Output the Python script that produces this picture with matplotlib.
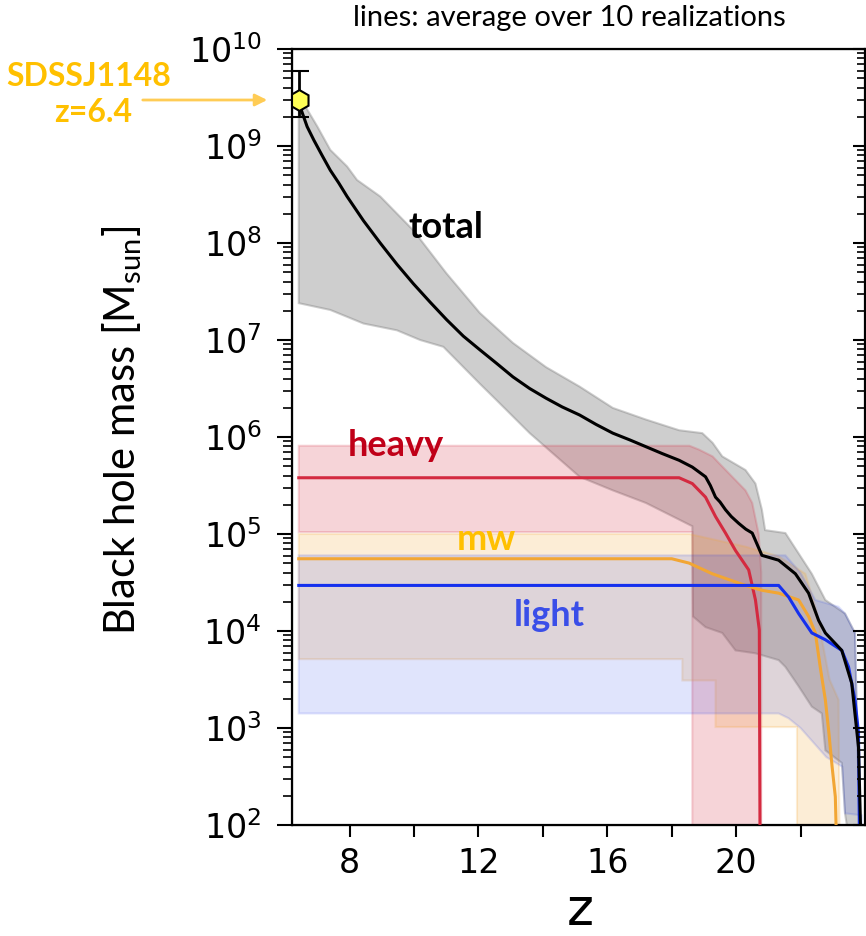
import numpy as np
import matplotlib
matplotlib.use("Agg")
import matplotlib.pyplot as plt
from matplotlib.ticker import (FixedLocator, FixedFormatter, NullFormatter,
                               LogFormatterSciNotation)

# ---------------- data ----------------
# observed quasar
qso_z = 6.42
qso_m = 3.0e9
qso_err_lo = 1.0e9
qso_err_hi = 3.0e9

# total: mean line and band
total_z = [6.42, 6.5, 6.68, 6.89, 7.15, 7.40, 7.66, 7.92, 8.43, 8.95, 9.47, 9.98,
           10.5, 11.01, 11.53, 12.04, 12.56, 13.07, 13.59, 14.1, 14.6, 15.14,
           15.65, 16.17, 16.7, 17.2, 17.7, 18.23, 18.64, 19.05, 19.2, 19.36,
           19.5, 19.67, 19.85, 20.08, 20.3, 20.5, 20.8, 21.32, 21.84, 22.25,
           22.56, 22.77, 23.28, 23.59, 23.8, 23.9]
total_logm = [9.48, 9.37, 9.2, 9.06, 8.90, 8.75, 8.62, 8.48, 8.23, 8.0, 7.78, 7.58,
              7.39, 7.21, 7.04, 6.9, 6.76, 6.62, 6.50, 6.40, 6.31, 6.227,
              6.13, 6.04, 5.97, 5.90, 5.83, 5.76, 5.69, 5.59, 5.50, 5.38,
              5.33, 5.25, 5.18, 5.11, 5.05, 5.01, 4.78, 4.73, 4.59, 4.39,
              4.11, 3.98, 3.80, 3.46, 2.8, 1.5]
total_up_z = [6.42, 6.57, 7.0, 7.4, 7.92, 8.23, 8.95, 9.98, 11.0, 12.04, 13.07, 14.1,
              15.14, 16.17, 17.2, 18.23, 18.95, 19.27, 19.57, 20.29, 20.6, 20.8,
              20.9, 21.53, 22.35, 22.77, 23.38, 23.69, 23.9]
total_up_logm = [9.50, 9.44, 9.2, 8.96, 8.79, 8.65, 8.48, 8.13, 7.69, 7.28, 6.97, 6.72,
                 6.52, 6.30, 6.18, 6.07, 6.04, 5.94, 5.80, 5.66, 5.52, 5.25,
                 5.04, 5.01, 4.59, 4.32, 4.18, 3.98, 1.0]
total_lo_z = [6.42, 7.4, 8.43, 9.47, 10.19, 10.91, 12.04, 12.56, 13.59, 15.14,
              16.17, 17.2, 18.64, 18.66, 19.05, 19.57, 19.98, 20.6, 21.32, 21.53,
              21.94, 22.35, 22.66, 22.77, 23.28, 23.38, 23.9]
total_lo_logm = [7.38, 7.31, 7.17, 7.10, 7.0, 6.93, 6.55, 6.38, 6.04, 5.59,
                 5.45, 5.32, 5.08, 4.15, 4.04, 3.98, 3.80, 3.77, 3.70, 3.63,
                 3.43, 3.22, 3.15, 2.77, 2.64, 2.12, 1.0]

# heavy seeds
heavy_z = [6.42, 18.23, 18.64, 19.05, 19.36, 19.67, 19.98, 20.39, 20.6, 20.72, 20.75]
heavy_logm = [5.58, 5.58, 5.52, 5.38, 5.18, 5.01, 4.83, 4.63, 4.32, 4.01, 1.0]
heavy_up_z = [6.42, 18.55, 18.85, 19.27, 19.47, 19.88, 20.29, 20.5, 20.7, 20.78, 20.78]
heavy_up_logm = [5.91, 5.91, 5.87, 5.80, 5.73, 5.59, 5.45, 5.32, 5.0, 4.6, 1.0]
heavy_lo_z = [6.42, 18.64, 18.64]
heavy_lo_logm = [5.02, 5.02, 1.0]

# medium-weight seeds
mw_z = [6.42, 18.0, 18.54, 19.26, 20.29, 20.8, 21.32, 21.94, 22.25, 22.46,
        22.61, 22.77, 22.88, 22.98, 23.08, 23.18]
mw_logm = [4.745, 4.745, 4.70, 4.59, 4.47, 4.42, 4.39, 4.32, 4.15, 3.98,
           3.63, 3.29, 2.95, 2.60, 2.29, 1.0]
mw_up_z = [6.42, 18.55, 20.29, 21.32, 22.15, 22.5, 22.9, 23.18, 23.23]
mw_up_logm = [5.0, 5.0, 4.87, 4.77, 4.59, 4.2, 3.5, 3.29, 1.0]
mw_lo_z = [6.42, 18.33, 18.33, 19.36, 19.36, 21.89, 21.89]
mw_lo_logm = [3.71, 3.71, 3.49, 3.49, 3.01, 3.01, 1.0]

# light seeds
light_z = [6.42, 21.32, 21.63, 21.94, 22.35, 22.77, 23.28, 23.49, 23.69, 23.8, 23.85]
light_logm = [4.47, 4.47, 4.35, 4.18, 3.98, 3.91, 3.80, 3.63, 3.29, 2.95, 1.0]
light_up_z = [6.42, 21.53, 22.0, 22.46, 23.18, 23.38, 23.69, 23.9]
light_up_logm = [4.78, 4.78, 4.6, 4.32, 4.25, 4.18, 3.98, 1.0]
light_lo_z = [6.42, 21.32, 21.63, 22.0, 22.4, 22.8, 23.3, 23.38, 23.9]
light_lo_logm = [3.15, 3.15, 3.1, 3.0, 2.85, 2.7, 2.6, 2.12, 2.1]

x_ticks = [8, 10, 12, 14, 16, 18, 20, 22]
x_ticklabels = ["8", "", "12", "", "16", "", "20", ""]
y_decades = list(range(2, 11))

# ---------------- figure ----------------
plt.rcParams["mathtext.default"] = "regular"
fig = plt.figure(figsize=(8.66, 9.36), dpi=100)
ax = fig.add_axes([0.3368, 0.1186, 0.662, 0.829])


def m(vals):
    return [10.0 ** v for v in vals]


def band(zu, lu, zl, ll, color, alpha, ecolor=None):
    xs = list(zu) + list(zl)[::-1]
    ys = m(lu) + m(ll)[::-1]
    ax.fill(xs, ys, facecolor=color, alpha=alpha, edgecolor=ecolor or color,
            linewidth=1.5, zorder=1)


c_heavy = "#d42a40"
c_mw = "#f2a634"
c_light = "#1530ee"

band(total_up_z, total_up_logm, total_lo_z, total_lo_logm, "0.45", 0.35)
band(heavy_up_z, heavy_up_logm, heavy_lo_z, heavy_lo_logm, c_heavy, 0.2)
band(mw_up_z, mw_up_logm, mw_lo_z, mw_lo_logm, c_mw, 0.2)
band(light_up_z, light_up_logm, light_lo_z, light_lo_logm, c_light, 0.13)

ax.plot(heavy_z, m(heavy_logm), color=c_heavy, lw=2.2, zorder=3)
ax.plot(mw_z, m(mw_logm), color=c_mw, lw=2.2, zorder=3)
ax.plot(light_z, m(light_logm), color=c_light, lw=2.2, zorder=3)
ax.plot(total_z, m(total_logm), color="black", lw=2.2, zorder=4)

ax.errorbar([qso_z], [qso_m], yerr=[[qso_err_lo], [qso_err_hi]], fmt="h",
            color="black", mfc="#ffff55", mec="black", ms=15, mew=1.5,
            capsize=7, capthick=2, elinewidth=2, zorder=6)

ax.set_yscale("log")
ax.set_xlim(6.2, 24.0)
ax.set_ylim(1e2, 1e10)

major_y = [10.0 ** d for d in y_decades]
minor_y = [k * 10.0 ** d for d in y_decades[:-1] for k in range(2, 10)]

ax.xaxis.set_major_locator(FixedLocator(x_ticks))
ax.xaxis.set_major_formatter(FixedFormatter(x_ticklabels))
ax.yaxis.set_major_locator(FixedLocator(major_y))
ax.yaxis.set_major_formatter(LogFormatterSciNotation())
ax.yaxis.set_minor_locator(FixedLocator(minor_y))
ax.yaxis.set_minor_formatter(NullFormatter())

ax.tick_params(axis="x", which="major", direction="out", length=8.5, width=1.5,
               labelsize=24, pad=7, top=False)
ax.tick_params(axis="y", which="major", direction="out", length=10.5, width=1.5,
               labelsize=24, pad=11, right=False)
ax.tick_params(axis="y", which="minor", direction="out", length=6.5, width=1.2,
               right=False)
for sp in ax.spines.values():
    sp.set_linewidth(1.6)

ax2 = ax.twinx()
ax2.set_yscale("log")
ax2.set_ylim(1e2, 1e10)
ax2.yaxis.set_major_locator(FixedLocator(major_y))
ax2.yaxis.set_minor_locator(FixedLocator(minor_y))
ax2.tick_params(axis="y", which="major", direction="in", length=8.5, width=1.5,
                labelright=False)
ax2.tick_params(axis="y", which="minor", direction="in", length=5.5, width=1.2,
                labelright=False)
ax2.yaxis.set_minor_formatter(NullFormatter())
ax2.yaxis.set_major_formatter(NullFormatter())

# labels
fig.text(580 / 866, 0.0, "z", fontsize=37, ha="center", va="bottom",
         family="DejaVu Sans")
fig.text(122 / 866, 1 - 430 / 936, "Black hole mass [M$_{sun}$]", rotation=90,
         fontsize=30, ha="center", va="center", family="Lato")
fig.text(569 / 866, 1 - 18 / 936, "lines: average over 10 realizations",
         fontsize=21, ha="center", va="center", family="Lato")

ax.text(10.99, 1.43e8, "total", fontsize=26, fontweight="bold", color="black",
        ha="center", va="center", family="Lato", zorder=7)
ax.text(9.44, 8.1e5, "heavy", fontsize=26, fontweight="bold", color="#c00018",
        ha="center", va="center", family="Lato", zorder=7)
ax.text(12.26, 8.7e4, "mw", fontsize=26, fontweight="bold", color="#ffc000",
        ha="center", va="center", family="Lato", zorder=7)
ax.text(14.21, 1.43e4, "light", fontsize=26, fontweight="bold", color="#3a4ee8",
        ha="center", va="center", family="Lato", zorder=7)

fig.text(89 / 866, 1 - 76 / 936, "SDSSJ1148", fontsize=23, fontweight="bold",
         color="#ffc000", ha="center", va="center", family="Lato")
fig.text(93 / 866, 1 - 113 / 936, "z=6.4", fontsize=23, fontweight="bold",
         color="#ffc000", ha="center", va="center", family="Lato")
fig.patches.append(matplotlib.patches.FancyArrowPatch(
    (140 / 866, 1 - 100 / 936), (270 / 866, 1 - 100 / 936),
    transform=fig.transFigure, arrowstyle="-|>", mutation_scale=18,
    color="#ffcc55", lw=2))

fig.savefig("out.png", dpi=100)
